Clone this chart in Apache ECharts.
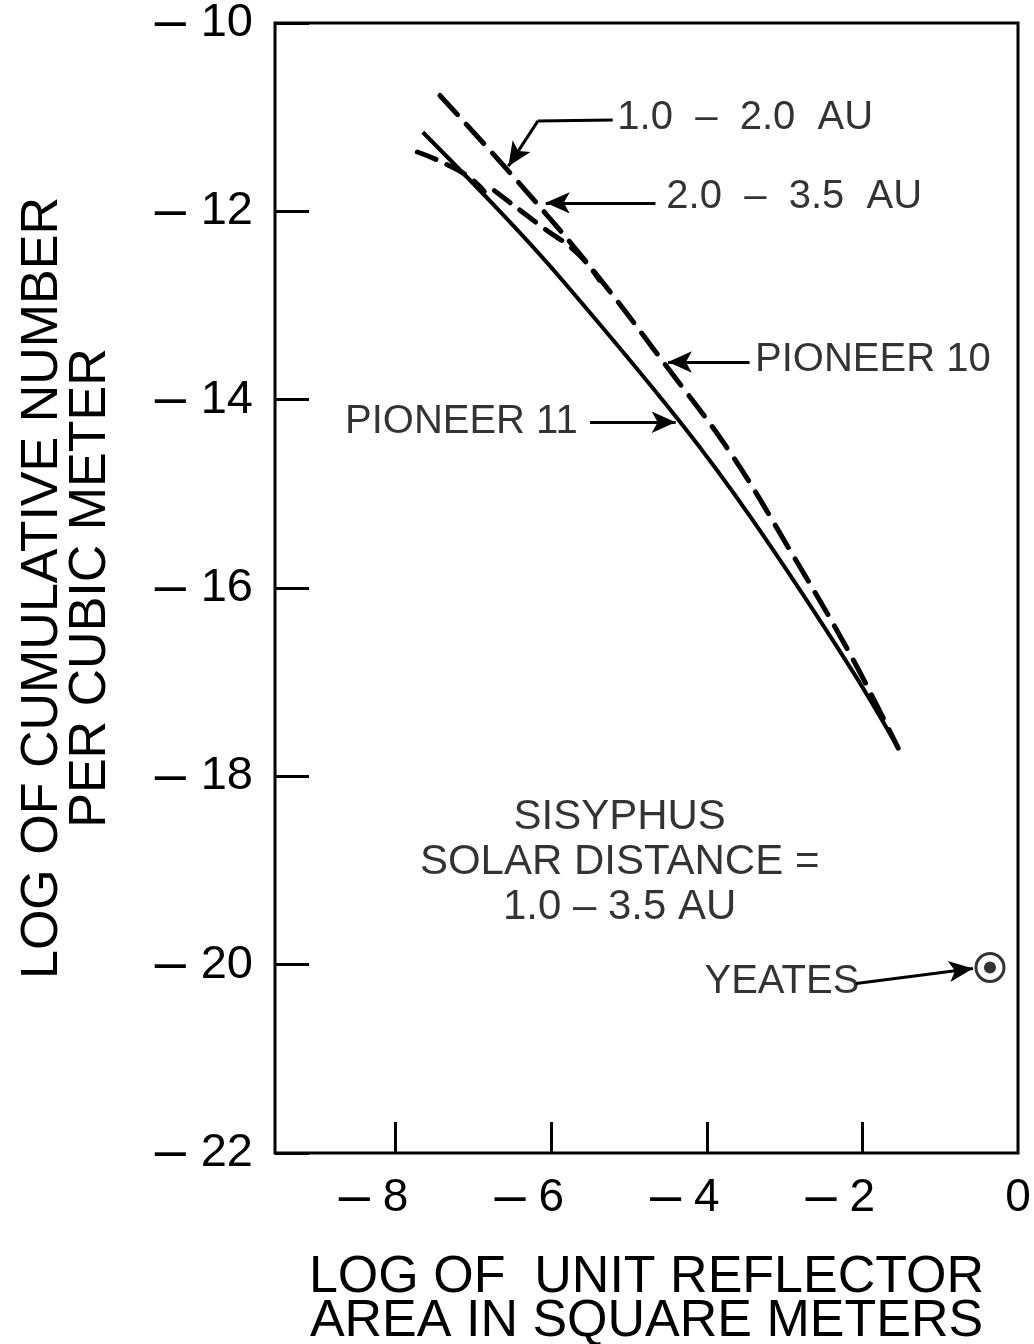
<!DOCTYPE html>
<html>
<head>
<meta charset="utf-8">
<script src="https://cdn.jsdelivr.net/npm/echarts@6/dist/echarts.min.js"></script>
<style>html,body{margin:0;background:#fff}#chart{width:1034px;height:1344px}</style>
</head>
<body>
<div id="chart"></div>
<script>
// tick values
var xTicks = [-8, -6, -4, -2];
var xLabels = [-8, -6, -4, -2, 0];

// curves, [log area, log number]
var pioneer11 = [[-7.65, -11.16], [-6.66, -12.00], [-5.89, -12.70], [-4.35, -14.23], [-3.41, -15.28], [-2.16, -16.84], [-1.54, -17.70]];
var pioneer10 = [[-7.43, -10.77], [-6.37, -11.74], [-5.42, -12.67], [-4.55, -13.61], [-3.70, -14.56], [-2.93, -15.60], [-2.14, -16.73], [-1.54, -17.70]];
var segA = [[-7.72, -11.37], [-7.40, -11.48], [-7.05, -11.64], [-6.86, -11.79]];
var segB = [[-6.73, -11.78], [-6.11, -12.17], [-5.67, -12.44], [-5.38, -12.73]];
var yeates = [[-0.36, -20.03]];

// notes and arrows
var notesRight = [['1.0  –  2.0  AU', -5.15, -11.01], ['2.0  –  3.5  AU', -4.52, -11.85], ['PIONEER 10', -3.38, -13.58], ['YEATES', -4.03, -20.18]];
var notesLeft = [['PIONEER 11', -5.66, -14.24]];
var noteCenter = [['SISYPHUS\nSOLAR DISTANCE =\n1.0 – 3.5 AU', -5.12, -18.91]];
var leaders = [
  [[-5.21, -11.03], [-6.17, -11.04], 0],
  [[-6.17, -11.04], [-6.55, -11.52], 1],
  [[-4.66, -11.91], [-6.07, -11.91], 1],
  [[-3.45, -13.60], [-4.50, -13.60], 1],
  [[-5.50, -14.24], [-4.40, -14.24], 1],
  [[-2.08, -20.20], [-0.58, -20.04], 1]
];

var FONT = 'Liberation Sans';

function noteData(arr) {
  return arr.map(function (n) { return { name: n[0], value: [n[1], n[2]] }; });
}

var chart = echarts.init(document.getElementById('chart'));

var option = {
  backgroundColor: '#fff',
  animation: false,
  grid: {
    show: true, borderColor: '#000', borderWidth: 3,
    left: 275, top: 23, width: 743, height: 1130,
    containLabel: false, outerBoundsMode: 'none'
  },
  xAxis: {
    type: 'value', min: -9.55, max: 0,
    axisLine: { show: false, onZero: false },
    splitLine: { show: false },
    axisTick: { inside: true, length: 31, customValues: xTicks, lineStyle: { color: '#000', width: 3 } },
    axisLabel: {
      customValues: xLabels, margin: 17, color: '#000',
      formatter: function (v) {
        var sign = v < 0 ? '–' : ' ';
        return '{m|' + sign + '}{d|' + Math.abs(v) + '}{p|}';
      },
      rich: {
        m: { fontSize: 56, fontFamily: FONT, width: 44, align: 'left', color: '#000' },
        d: { fontSize: 46, fontFamily: FONT, color: '#000' },
        p: { width: 44 }
      }
    },
    name: 'LOG OF  UNIT REFLECTOR\nAREA IN SQUARE METERS',
    nameLocation: 'middle', nameGap: 103,
    nameTextStyle: { fontSize: 52, lineHeight: 44, fontFamily: FONT, color: '#000' }
  },
  yAxis: {
    type: 'value', min: -22, max: -10, interval: 2,
    axisLine: { show: false, onZero: false },
    splitLine: { show: false },
    axisTick: { inside: true, length: 34, lineStyle: { color: '#000', width: 3 } },
    axisLabel: {
      margin: 22, color: '#000',
      formatter: function (v) { return '{m|–}{d|' + (-v) + '}'; },
      rich: {
        m: { fontSize: 56, fontFamily: FONT, width: 46, align: 'left', color: '#000' },
        d: { fontSize: 47, fontFamily: FONT, color: '#000' }
      }
    },
    name: 'LOG OF CUMULATIVE NUMBER\nPER CUBIC METER',
    nameLocation: 'middle', nameGap: 160, nameRotate: 90,
    nameTextStyle: { fontSize: 52, lineHeight: 48, fontFamily: FONT, color: '#000' }
  },
  series: [
    {
      name: 'Pioneer 11', type: 'line', data: pioneer11, smooth: 0.4, showSymbol: false,
      lineStyle: { color: '#000', width: 4 }
    },
    {
      name: 'Pioneer 10', type: 'line', data: pioneer10, smooth: 0.4, showSymbol: false,
      lineStyle: { color: '#000', width: 5, type: [26, 13], cap: 'round' }
    },
    {
      name: 'segment A', type: 'line', data: segA, smooth: true, showSymbol: false,
      lineStyle: { color: '#000', width: 5, type: [20, 12], cap: 'round' }
    },
    {
      name: 'segment B', type: 'line', data: segB, smooth: true, showSymbol: false,
      lineStyle: { color: '#000', width: 5, type: [20, 12], cap: 'round' }
    },
    {
      name: 'Yeates', type: 'scatter', data: yeates, symbolSize: 28,
      itemStyle: { color: '#fff', borderColor: '#000', borderWidth: 3 }
    },
    {
      name: 'Yeates dot', type: 'scatter', data: yeates, symbolSize: 12,
      itemStyle: { color: '#000' }
    },
    {
      type: 'scatter', data: noteData(notesRight), symbolSize: 0, silent: true,
      label: { show: true, position: 'right', distance: 0, formatter: '{b}', fontSize: 40, fontFamily: FONT, color: '#000' }
    },
    {
      type: 'scatter', data: noteData(notesLeft), symbolSize: 0, silent: true,
      label: { show: true, position: 'left', distance: 0, formatter: '{b}', fontSize: 40, fontFamily: FONT, color: '#000' }
    },
    {
      type: 'scatter', data: noteData(noteCenter), symbolSize: 0, silent: true,
      label: { show: true, position: 'inside', formatter: '{b}', fontSize: 42, lineHeight: 45, align: 'center', fontFamily: FONT, color: '#000' }
    },
    {
      type: 'line', data: [], silent: true,
      markLine: {
        silent: true, animation: false,
        label: { show: false },
        lineStyle: { color: '#000', width: 3, type: 'solid' },
        emphasis: { disabled: true },
        data: leaders.map(function (l, i) {
          return [
            { coord: l[0], symbol: 'none' },
            { coord: l[1], symbol: l[2] ? 'arrow' : 'none', symbolSize: [16, 24],
              lineStyle: { curveness: i === 5 ? 0.06 : 0 } }
          ];
        })
      }
    }
  ]
};

chart.setOption(option);
</script>
</body>
</html>
